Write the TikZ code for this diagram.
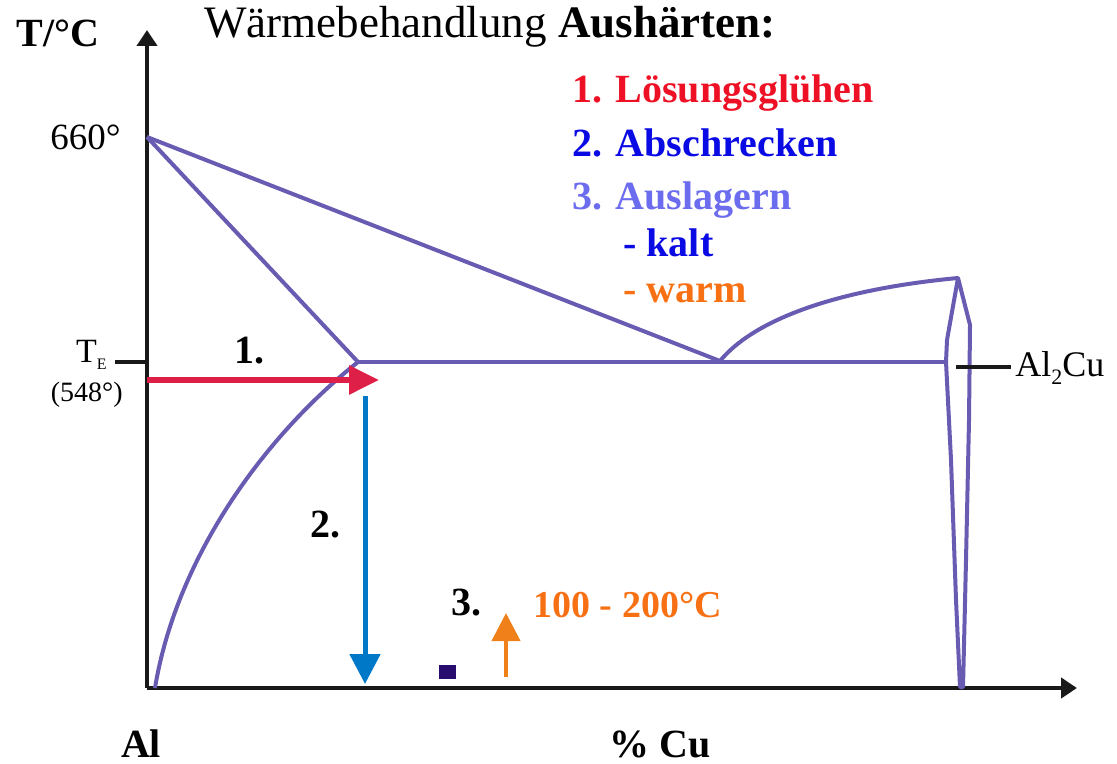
\documentclass[tikz,border=0pt]{standalone}
\usepackage{fontspec}
\setmainfont{Liberation Serif}
\usetikzlibrary{arrows.meta}

\definecolor{phaseline}{RGB}{104,92,178}
\definecolor{heatred}{RGB}{222,32,72}
\definecolor{quenchblue}{RGB}{0,120,200}
\definecolor{ageorange}{RGB}{240,128,25}
\definecolor{txtred}{RGB}{238,16,36}
\definecolor{txtblue}{RGB}{10,10,228}
\definecolor{txtlight}{RGB}{108,108,238}
\definecolor{txtorange}{RGB}{248,112,20}
\definecolor{seedbox}{RGB}{40,12,110}

\newcommand{\fsz}[1]{\fontsize{#1}{#1}\selectfont}

\begin{document}
\begin{tikzpicture}[
  x=0.5pt, y=-0.5pt,
  axis/.style={line width=2pt, draw=black!90, -{Triangle[length=8pt, width=10pt]}},
  tick/.style={line width=2pt, draw=black!90},
  phase/.style={line width=2pt, draw=phaseline, line join=round},
  heat/.style={line width=3pt, draw=heatred, -{Triangle[length=15pt, width=14pt]}},
  quench/.style={line width=2.5pt, draw=quenchblue, -{Triangle[length=15pt, width=15pt]}},
  age/.style={line width=2pt, draw=ageorange, -{Triangle[length=14pt, width=14pt]}},
  lbl/.style={inner sep=0pt, font=\fsz{18.5}},
  bold/.style={inner sep=0pt, font=\fsz{20}\bfseries},
  legend/.style={inner sep=0pt, font=\fsz{20}\bfseries, anchor=base west}
]
\useasboundingbox (0,0) rectangle (1117,764);

% axes
\coordinate (O)    at (147,688);
\coordinate (ytop) at (147,30);
\coordinate (xend) at (1077,688);
\draw[axis] (O) -- (ytop);
\draw[axis] (O) -- (xend);

% phase diagram Al - Al2Cu
\coordinate (M)  at (147,137);   % melting point Al
\coordinate (E)  at (720,361);   % eutectic point
\coordinate (S)  at (358,362);   % max. solubility
\coordinate (Sa) at (155,688);
\coordinate (P)  at (958,278);   % melting point Al2Cu
\coordinate (Pl) at (946,362);
\draw[phase] (M) -- (E);
\draw[phase] (M) -- (S);
\draw[phase] (S) -- (Pl);
\draw[phase] (S) .. controls (262,438) and (176,560) .. (Sa);
\draw[phase] (E) .. controls (752,322) and (830,290) .. (P);
\draw[phase] (P) -- (947,340) -- (Pl) -- (951,460) -- (956,600) -- (960,687)
  -- (963,687) -- (966,560) -- (969,420) -- (970,325) -- cycle;

% axis labels
\node[bold] (ylab) at (58,33) {T/°C};
\node[lbl, anchor=base east] (t660) at (121,150) {660°};
\draw[tick] (115,362) coordinate (te0) -- (147,362) coordinate (te1);
\node[lbl, anchor=base east, font=\fsz{17}] (te) at (107,362)
  {T\raisebox{-0.5ex}{\fsz{8}E}};
\node[lbl, anchor=base east, font=\fsz{14}] (t548) at (123,401) {(548°)};
\draw[tick] (956,367) coordinate (ac0) -- (1011,367) coordinate (ac1);
\node[lbl, anchor=west, font=\fsz{18}] (al2cu) at (1015,368)
  {Al\raisebox{-0.45ex}{\fsz{11}2}Cu};
\node[bold, anchor=base] (al) at (141,757) {Al};
\node[bold, anchor=base] (cu) at (660,757) {\% Cu};

% title and legend
\node[lbl, anchor=base west, font=\fsz{22.5}] (title) at (204,38)
  {Wärmebehandlung \textbf{Aushärten:}};
\node[legend, text=txtred]    (l1) at (572,103) {1. Lösungsglühen};
\node[legend, text=txtblue]   (l2) at (572,157) {2. Abschrecken};
\node[legend, text=txtlight]  (l3) at (572,210) {3. Auslagern};
\node[legend, text=txtblue]   (l4) at (623,257) {- kalt};
\node[legend, text=txtorange] (l5) at (623,303) {- warm};

% heat treatment steps
\coordinate (h0) at (147,380);
\coordinate (h1) at (379,380);
\draw[heat] (h0) -- (h1);
\node[bold, anchor=base] (n1) at (249,363) {1.};
\coordinate (q0) at (365,396);
\coordinate (q1) at (365,684);
\draw[quench] (q0) -- (q1);
\node[bold, anchor=base] (n2) at (325,537) {2.};
\node[bold, anchor=base] (n3) at (466,615) {3.};
\node[fill=seedbox, inner sep=0pt, minimum width=8.5pt, minimum height=7pt] (seed) at (447.5,671.5) {};
\coordinate (a0) at (506,677);
\coordinate (a1) at (506,613);
\draw[age] (a0) -- (a1);
\node[bold, anchor=base west, font=\fsz{19}\bfseries, text=txtorange] (temp) at (533,617) {100 - 200°C};
\end{tikzpicture}
\end{document}
